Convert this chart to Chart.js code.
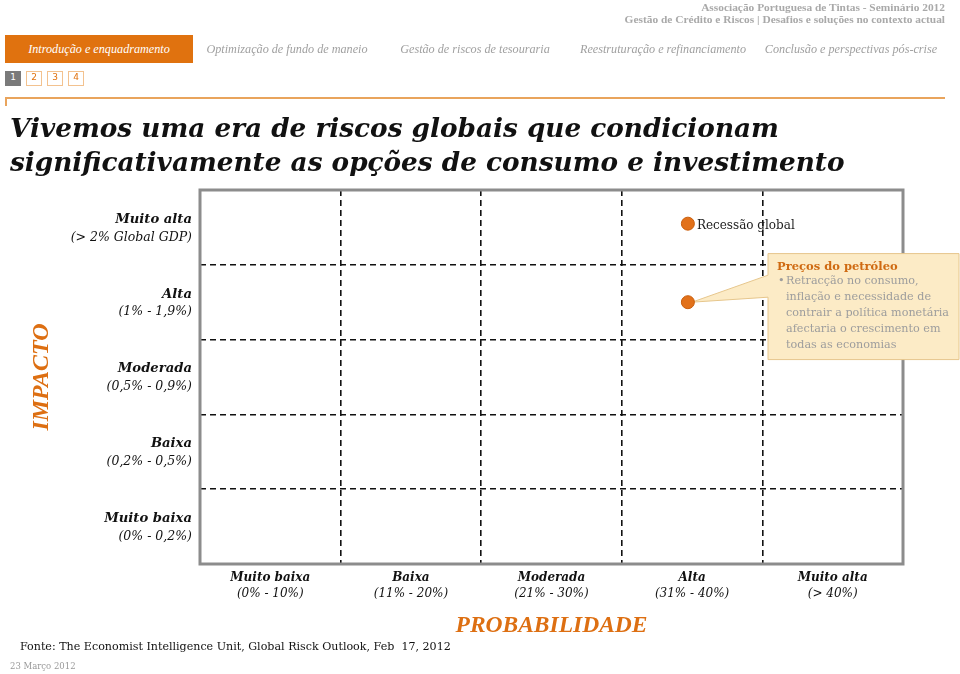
<!DOCTYPE html>
<html>
<head>
<meta charset="utf-8">
<script src="https://cdn.jsdelivr.net/npm/chart.js@4.4.1/dist/chart.umd.min.js"></script>
<style>
  html, body { margin: 0; padding: 0; background: #fff; }
  body { width: 960px; height: 674px; position: relative; overflow: hidden; font-family: "DejaVu Serif", Georgia, serif; }
  .abs { position: absolute; white-space: nowrap; }
  #hdr { right: 15px; top: 1px; text-align: right; color: #a9a9a9; font: bold 11.4px/12px "Liberation Serif", serif; }
  .tab { top: 35px; height: 28px; line-height: 28px; font: italic 12.2px/28px "Liberation Serif", serif; color: #a0a0a0; text-align: center; }
  .tab.on { background: #e0720f; color: #fff; }
  .pg { top: 71px; width: 14px; height: 13px; line-height: 13px; font: 9px "DejaVu Sans", sans-serif; text-align: center; border: 1px solid #f3c28f; color: #e0720f; }
  .pg.on { background: #7a7a7a; border-color: #7a7a7a; color: #fff; }
  #rule { left: 5px; top: 97px; width: 940px; height: 0; border-top: 2px solid #e9a45c; }
  #ruletick { left: 5px; top: 97px; width: 0; height: 9px; border-left: 2px solid #e9a45c; }
  #title { left: 10px; top: 111px; font-size: 26.3px; line-height: 34px; font-weight: bold; font-style: italic; color: #111; }
  #src { left: 20px; top: 640px; font-size: 11.1px; color: #111; }
  #date { left: 10px; top: 661px; font-size: 8.5px; color: #999; }
  #c { position: absolute; left: 0; top: 0; }
</style>
</head>
<body>
<canvas id="c" width="960" height="674"></canvas>

<div id="hdr" class="abs">Associação Portuguesa de Tintas - Seminário 2012<br>Gestão de Crédito e Riscos | Desafios e soluções no contexto actual</div>

<div class="abs tab on" style="left:5px;width:188px;">Introdução e enquadramento</div>
<div class="abs tab" style="left:197px;width:180px;">Optimização de fundo de maneio</div>
<div class="abs tab" style="left:385px;width:180px;">Gestão de riscos de tesouraria</div>
<div class="abs tab" style="left:568px;width:190px;">Reestruturação e refinanciamento</div>
<div class="abs tab" style="left:756px;width:190px;">Conclusão e perspectivas pós-crise</div>

<div class="abs pg on" style="left:5px;">1</div>
<div class="abs pg" style="left:26px;">2</div>
<div class="abs pg" style="left:47px;">3</div>
<div class="abs pg" style="left:68px;">4</div>

<div id="rule" class="abs"></div>
<div id="ruletick" class="abs"></div>

<div id="title" class="abs">Vivemos uma era de riscos globais que condicionam<br>significativamente as opções de consumo e investimento</div>

<div id="src" class="abs">Fonte: The Economist Intelligence Unit, Global Risck Outlook, Feb&nbsp; 17, 2012</div>
<div id="date" class="abs">23 Março 2012</div>

<script>
// probability (x) and impact (y) bands
const probCats = ['Muito baixa', 'Baixa', 'Moderada', 'Alta', 'Muito alta'];
const probRanges = ['(0% - 10%)', '(11% - 20%)', '(21% - 30%)', '(31% - 40%)', '(> 40%)'];
const impactCats = ['Muito baixa', 'Baixa', 'Moderada', 'Alta', 'Muito alta'];
const impactRanges = ['(0% - 0,2%)', '(0,2% - 0,5%)', '(0,5% - 0,9%)', '(1% - 1,9%)', '(> 2% Global GDP)'];

// risks placed on the matrix
const riskNames = ['Recessão global', 'Preços do petróleo'];
const riskProb = [3.47, 3.47];
const riskImpact = [4.55, 3.5];
const oilNotes = ['Retracção no consumo,', 'inflação e necessidade de', 'contrair a política monetária', 'afectaria o crescimento em', 'todas as economias'];

const ORANGE = '#dd6f12';
const SERIF = '"DejaVu Serif", Georgia, serif';
const TIMES = '"Liberation Serif", "Times New Roman", serif';

const matrixPlugin = {
    id: 'matrix',
    beforeDatasetsDraw(chart) {
        const { ctx, chartArea: a, scales: { x, y } } = chart;
        ctx.save();
        // frame
        ctx.strokeStyle = '#8c8c8c';
        ctx.lineWidth = 3;
        ctx.strokeRect(a.left, a.top, a.right - a.left, a.bottom - a.top);

        // callout for oil prices
        const px = x.getPixelForValue(riskProb[1]);
        const py = y.getPixelForValue(riskImpact[1]);
        const bx = 768, by = y.getPixelForValue(4.15), bw = 191, bh = 106;
        ctx.fillStyle = '#fcebc6';
        ctx.strokeStyle = '#e6c68c';
        ctx.lineWidth = 1;
        ctx.beginPath();
        ctx.moveTo(bx, by);
        ctx.lineTo(bx + bw, by);
        ctx.lineTo(bx + bw, by + bh);
        ctx.lineTo(bx, by + bh);
        ctx.lineTo(bx, py - 5);
        ctx.lineTo(px + 4, py);
        ctx.lineTo(bx, py - 27);
        ctx.closePath();
        ctx.fill();
        ctx.stroke();

        ctx.textBaseline = 'middle';
        ctx.textAlign = 'left';
        ctx.fillStyle = '#cf6a12';
        ctx.font = 'bold 11.5px ' + SERIF;
        ctx.fillText(riskNames[1], bx + 9, by + 13);
        ctx.fillStyle = '#9d9d9d';
        ctx.font = '11.2px ' + SERIF;
        oilNotes.forEach((t, i) => {
            const ty = by + 28 + i * 15.8;
            if (i === 0) ctx.fillText('•', bx + 10, ty);
            ctx.fillText(t, bx + 18, ty);
        });
        ctx.restore();
    },
    afterDatasetsDraw(chart) {
        const { ctx, scales: { x, y } } = chart;
        ctx.save();
        ctx.textBaseline = 'middle';

        // label next to the recession point
        ctx.fillStyle = '#222';
        ctx.font = '12px ' + SERIF;
        ctx.textAlign = 'left';
        ctx.fillText(riskNames[0], x.getPixelForValue(riskProb[0]) + 9, y.getPixelForValue(riskImpact[0]) + 2);

        // impact band labels
        ctx.textAlign = 'right';
        ctx.fillStyle = '#111';
        impactCats.forEach((c, i) => {
            const cy = y.getPixelForValue(i + 0.5);
            ctx.font = 'bold italic 13.2px ' + SERIF;
            ctx.fillText(c, 192, cy - 8);
            ctx.font = 'italic 12.5px ' + SERIF;
            ctx.fillText(impactRanges[i], 192, cy + 10);
        });

        // probability band labels
        ctx.textAlign = 'center';
        probCats.forEach((c, i) => {
            const cx = x.getPixelForValue(i + 0.5);
            ctx.font = 'bold italic 12px ' + SERIF;
            ctx.fillText(c, cx, 578);
            ctx.font = 'italic 12px ' + SERIF;
            ctx.fillText(probRanges[i], cx, 594);
        });

        // axis titles
        ctx.fillStyle = ORANGE;
        ctx.font = 'bold italic 23.5px ' + TIMES;
        ctx.fillText('PROBABILIDADE', x.getPixelForValue(2.5), 626);
        ctx.translate(42, y.getPixelForValue(2.5));
        ctx.rotate(-Math.PI / 2);
        ctx.font = 'bold italic 24px ' + TIMES;
        ctx.fillText('IMPACTO', 0, 0);
        ctx.restore();
    }
};

new Chart(document.getElementById('c'), {
    type: 'scatter',
    data: {
        datasets: [{
            data: riskProb.map((p, i) => ({ x: p, y: riskImpact[i] })),
            pointRadius: 6.5,
            pointHoverRadius: 6.5,
            backgroundColor: '#e2711a',
            borderColor: '#c95e0c',
            borderWidth: 1
        }]
    },
    options: {
        responsive: false,
        animation: false,
        layout: { padding: { left: 200, top: 190, right: 57, bottom: 110 } },
        plugins: { legend: { display: false }, tooltip: { enabled: false } },
        scales: {
            x: {
                min: 0, max: 5,
                ticks: { display: false, stepSize: 1 },
                grid: { color: '#111', lineWidth: 1.6, drawTicks: false },
                border: { display: false, dash: [6, 4] }
            },
            y: {
                min: 0, max: 5,
                ticks: { display: false, stepSize: 1 },
                grid: { color: '#111', lineWidth: 1.6, drawTicks: false },
                border: { display: false, dash: [6, 4] }
            }
        }
    },
    plugins: [matrixPlugin]
});
</script>
</body>
</html>
